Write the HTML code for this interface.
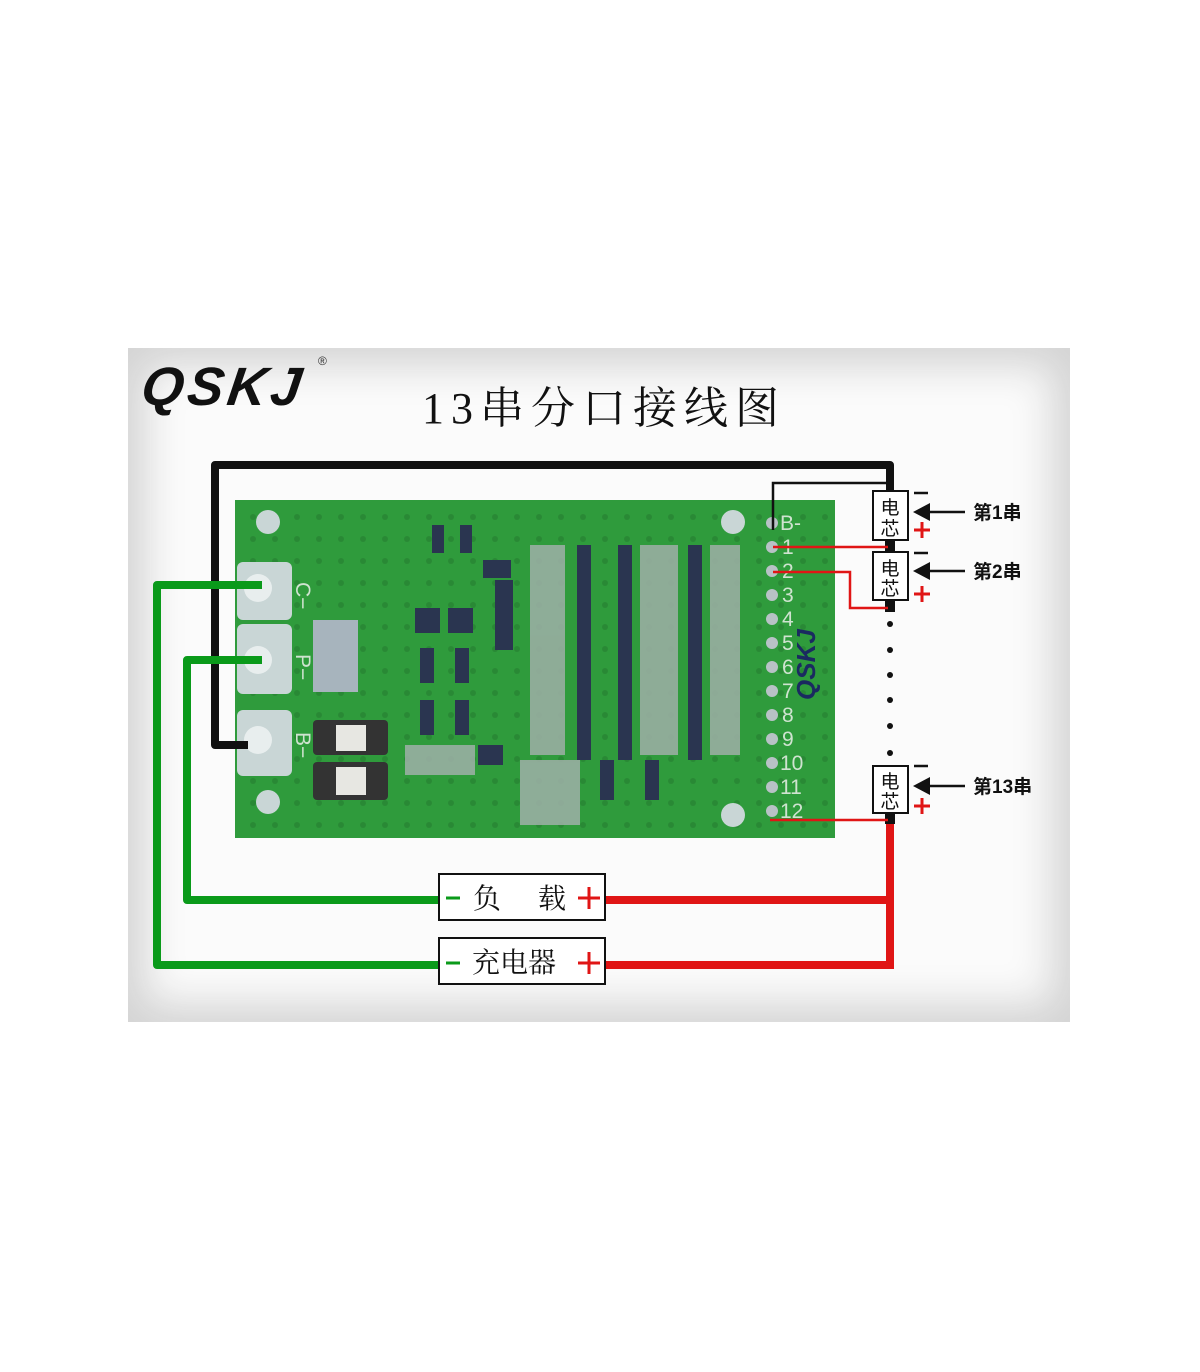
<!DOCTYPE html>
<html><head><meta charset="utf-8"><style>
body{margin:0;width:1200px;height:1372px;background:#fff;position:relative;overflow:hidden;font-family:"Liberation Sans","Noto Sans CJK SC",sans-serif}
#panel{position:absolute;left:128px;top:348px;width:942px;height:674px;background:#fbfbfb;box-shadow:inset 0 0 40px 18px #d4d4d4}
.abs{position:absolute}
</style></head><body>
<div id="panel"></div>
<div class="abs" style="left:142px;top:356px;font:italic 900 54px 'Liberation Sans',sans-serif;letter-spacing:4px;color:#111;transform:skewX(-8deg)">QSKJ</div>
<div class="abs" style="left:318px;top:354px;font-size:12px;color:#333">®</div>
<div class="abs" style="left:422px;top:372px;font:44px 'Liberation Serif','Noto Serif CJK SC',serif;letter-spacing:7px;color:#111">13串分口接线图</div>
<svg class="abs" style="left:0;top:0" width="1200" height="1372">
<defs><pattern id="p" width="22" height="22" patternUnits="userSpaceOnUse"><circle cx="11" cy="11" r="3" fill="#1f6e2a"/></pattern></defs>
<rect x="235" y="500" width="600" height="338" fill="#2f9b3c"/>
<rect x="235" y="500" width="600" height="338" fill="url(#p)" opacity="0.4"/>
<g fill="#c9d6d6">
<circle cx="268" cy="522" r="12"/><circle cx="268" cy="802" r="12"/><circle cx="733" cy="522" r="12"/><circle cx="733" cy="815" r="12"/>
<rect x="237" y="562" width="55" height="58" rx="6"/><rect x="237" y="624" width="55" height="70" rx="6"/><rect x="237" y="710" width="55" height="66" rx="6"/>
<rect x="313" y="620" width="45" height="72" fill="#a7b4bd"/>
</g>
<g fill="#e8eeee"><circle cx="258" cy="588" r="14"/><circle cx="258" cy="660" r="14"/><circle cx="258" cy="740" r="14"/></g>
<g fill="#333"><rect x="313" y="720" width="75" height="35" rx="4"/><rect x="313" y="762" width="75" height="38" rx="4"/></g>
<g fill="#e7e7e2"><rect x="336" y="725" width="30" height="26"/><rect x="336" y="767" width="30" height="28"/></g>
<g fill="#2a3550">
<rect x="432" y="525" width="12" height="28"/><rect x="460" y="525" width="12" height="28"/><rect x="483" y="560" width="28" height="18"/>
<rect x="415" y="608" width="25" height="25"/><rect x="448" y="608" width="25" height="25"/><rect x="495" y="580" width="18" height="70"/>
<rect x="420" y="648" width="14" height="35"/><rect x="455" y="648" width="14" height="35"/><rect x="420" y="700" width="14" height="35"/><rect x="455" y="700" width="14" height="35"/>
<rect x="577" y="545" width="14" height="215"/><rect x="618" y="545" width="14" height="215"/><rect x="688" y="545" width="14" height="215"/>
<rect x="600" y="760" width="14" height="40"/><rect x="645" y="760" width="14" height="40"/><rect x="478" y="745" width="25" height="20"/>
</g>
<g fill="#9fb0a8" opacity="0.85">
<rect x="530" y="545" width="35" height="210"/><rect x="640" y="545" width="38" height="210"/><rect x="710" y="545" width="30" height="210"/><rect x="405" y="745" width="70" height="30"/><rect x="520" y="760" width="60" height="65"/>
</g>
<g fill="#b8c2c6"><circle cx="772" cy="523" r="6"/><circle cx="772" cy="547" r="6"/><circle cx="772" cy="571" r="6"/><circle cx="772" cy="595" r="6"/><circle cx="772" cy="619" r="6"/><circle cx="772" cy="643" r="6"/><circle cx="772" cy="667" r="6"/><circle cx="772" cy="691" r="6"/><circle cx="772" cy="715" r="6"/><circle cx="772" cy="739" r="6"/><circle cx="772" cy="763" r="6"/><circle cx="772" cy="787" r="6"/><circle cx="772" cy="811" r="6"/></g>
<g font-size="21" fill="#cfe3d0" font-family="Liberation Sans">
<text x="780" y="530">B-</text><text x="782" y="554">1</text><text x="782" y="578">2</text><text x="782" y="602">3</text><text x="782" y="626">4</text><text x="782" y="650">5</text><text x="782" y="674">6</text><text x="782" y="698">7</text><text x="782" y="722">8</text><text x="782" y="746">9</text><text x="780" y="770">10</text><text x="780" y="794">11</text><text x="780" y="818">12</text>
<text x="296" y="582" transform="rotate(90 296 582)">C−</text><text x="296" y="654" transform="rotate(90 296 654)">P−</text><text x="296" y="732" transform="rotate(90 296 732)">B−</text>
</g>
<text x="815" y="700" transform="rotate(-90 815 700)" font-size="26" font-weight="900" font-style="italic" fill="#1a2a60">QSKJ</text>
<path d="M248 745 H215 V465 H890 V492" fill="none" stroke="#111" stroke-width="8" stroke-linejoin="round"/>
<path d="M773 530 V483 H888" fill="none" stroke="#111" stroke-width="2.5"/>
<g stroke="#111" stroke-width="10"><line x1="890" y1="540" x2="890" y2="552"/><line x1="890" y1="600" x2="890" y2="612"/><line x1="890" y1="812" x2="890" y2="824"/></g>
<g fill="none" stroke="#e01515" stroke-width="2.5"><path d="M773 547 H888"/><path d="M773 572 H850 V608 H888"/><path d="M770 820 H888"/></g>
<path d="M890 824 V965 H605 M890 900 H605" fill="none" stroke="#e01515" stroke-width="8"/>
<path d="M262 585 H157 V965 H440 M262 660 H187 V900 H440" fill="none" stroke="#0a9a1a" stroke-width="8" stroke-linejoin="round"/>
<g fill="#111"><circle cx="890" cy="624" r="3"/><circle cx="890" cy="650" r="3"/><circle cx="890" cy="675" r="3"/><circle cx="890" cy="700" r="3"/><circle cx="890" cy="726" r="3"/><circle cx="890" cy="753" r="3"/></g>
<g fill="#fff" stroke="#111" stroke-width="2"><rect x="873" y="491" width="35" height="49"/><rect x="873" y="552" width="35" height="48"/><rect x="873" y="766" width="35" height="47"/>
<rect x="439" y="874" width="166" height="46"/><rect x="439" y="938" width="166" height="46"/></g>
<g font-family="Liberation Sans,Noto Sans CJK SC,sans-serif" font-size="19" fill="#111" text-anchor="middle">
<text x="890" y="514">电</text><text x="890" y="535">芯</text><text x="890" y="575">电</text><text x="890" y="595">芯</text><text x="890" y="788">电</text><text x="890" y="808">芯</text></g>
<g stroke="#111" stroke-width="2.5"><line x1="914" y1="493" x2="928" y2="493"/><line x1="914" y1="553" x2="928" y2="553"/><line x1="914" y1="766" x2="928" y2="766"/></g>
<g stroke="#e01515" stroke-width="3"><path d="M914 530 H930 M922 522 V538"/><path d="M914 594 H930 M922 586 V602"/><path d="M914 806 H930 M922 798 V814"/>
<path d="M578 898 H600 M589 887 V909"/><path d="M578 963 H600 M589 952 V974"/></g>
<g stroke="#0a9a1a" stroke-width="3"><line x1="446" y1="898" x2="460" y2="898"/><line x1="446" y1="963" x2="460" y2="963"/></g>
<g fill="#111"><path d="M913 512 L930 503 V521Z"/><path d="M913 571 L930 562 V580Z"/><path d="M913 786 L930 777 V795Z"/></g>
<g stroke="#111" stroke-width="2.5"><line x1="928" y1="512" x2="965" y2="512"/><line x1="928" y1="571" x2="965" y2="571"/><line x1="928" y1="786" x2="965" y2="786"/></g>
<g font-family="Liberation Sans,Noto Sans CJK SC,sans-serif" font-size="19" font-weight="bold" fill="#111">
<text x="973" y="519">第1串</text><text x="973" y="578">第2串</text><text x="973" y="793">第13串</text></g>
<g font-family="Liberation Serif,Noto Serif CJK SC,serif" font-size="28" fill="#111">
<text x="473" y="908">负</text><text x="538" y="908">载</text><text x="472" y="972">充电器</text></g>
</svg>
</body></html>
